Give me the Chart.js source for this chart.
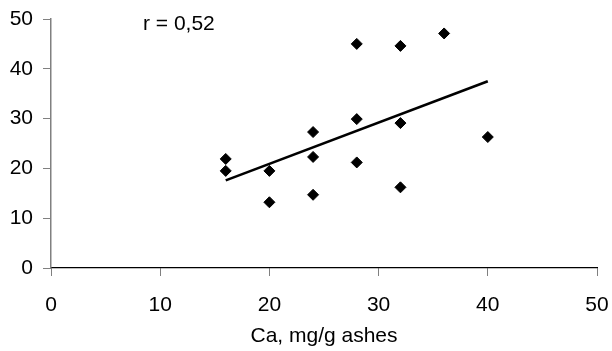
<!DOCTYPE html>
<html>
<head>
<meta charset="utf-8">
<script src="https://cdn.jsdelivr.net/npm/chart.js@4"></script>
<style>
  html,body{margin:0;padding:0;background:#fff;}
  #wrap{width:612px;height:351px;position:relative;}
</style>
</head>
<body>
<div id="wrap"><canvas id="c"></canvas></div>
<script>
/* Ca (mg/g ashes) vs value, scatter + linear trend */
const CA_X   = [16, 16, 20, 20, 24, 24, 24, 28, 28, 28, 32, 32, 32, 36, 40];
const VAL_Y  = [21.9, 19.5, 19.5, 13.2, 27.3, 22.3, 14.7, 45.0, 29.9, 21.2, 44.6, 29.1, 16.2, 47.1, 26.3];
const TREND_X = [16, 40];
const TREND_Y = [17.6, 37.5];
const X_TICKS = [0, 10, 20, 30, 40, 50];
const Y_TICKS = [0, 10, 20, 30, 40, 50];
const X_TITLE = 'Ca, mg/g ashes';
const R_LABEL = 'r = 0,52';

const FONT = "'Liberation Sans', Arial, sans-serif";

// r-label drawn relative to chart area
const rLabel = {
  id:'rLabel',
  afterDraw(chart){
    const {ctx, chartArea} = chart;
    ctx.save();
    ctx.font = '21px ' + FONT;
    ctx.fillStyle = '#000';
    ctx.textAlign = 'left';
    ctx.textBaseline = 'alphabetic';
    ctx.fillText(R_LABEL, chartArea.left + 92, chartArea.top + 11);
    ctx.restore();
  }
};

new Chart(document.getElementById('c'), {
  type:'scatter',
  data:{
    datasets:[
      {
        label:'data',
        data:CA_X.map((x,i)=>({x, y:VAL_Y[i]})),
        pointStyle:'rectRot', pointRadius:5.5, pointHoverRadius:5.5,
        backgroundColor:'#000', borderColor:'#000', borderWidth:1
      },
      {
        label:'trend',
        data:TREND_X.map((x,i)=>({x, y:TREND_Y[i]})),
        showLine:true, borderColor:'#000', borderWidth:2.6,
        pointRadius:0, fill:false
      }
    ]
  },
  options:{
    responsive:true, maintainAspectRatio:false, animation:false,
    layout:{padding:{top:19, right:15, left:0, bottom:0}},
    plugins:{legend:{display:false}, tooltip:{enabled:false}},
    scales:{
      x:{
        type:'linear', min:0, max:50,
        afterBuildTicks:s=>{ s.ticks = X_TICKS.map(v=>({value:v})); },
        afterFit:s=>{ s.height = 83; s.paddingLeft = 0; s.paddingRight = 0; },
        grid:{drawOnChartArea:false, drawTicks:true, tickLength:8, color:'#808080'},
        border:{color:'#000', width:1.2},
        ticks:{font:{family:FONT, size:21}, color:'#000', padding:16.5, maxRotation:0},
        title:{display:true, text:X_TITLE, font:{family:FONT, size:21}, color:'#000', padding:{top:0, bottom:2}}
      },
      y:{
        type:'linear', min:0, max:50,
        afterBuildTicks:s=>{ s.ticks = Y_TICKS.map(v=>({value:v})); },
        afterFit:s=>{ s.width = 51; s.paddingTop = 0; s.paddingBottom = 0; },
        grid:{drawOnChartArea:false, drawTicks:true, tickLength:8, color:'#808080'},
        border:{color:'#808080', width:1.5},
        ticks:{font:{family:FONT, size:21}, color:'#000', padding:10}
      }
    }
  },
  plugins:[rLabel]
});
</script>
</body>
</html>
